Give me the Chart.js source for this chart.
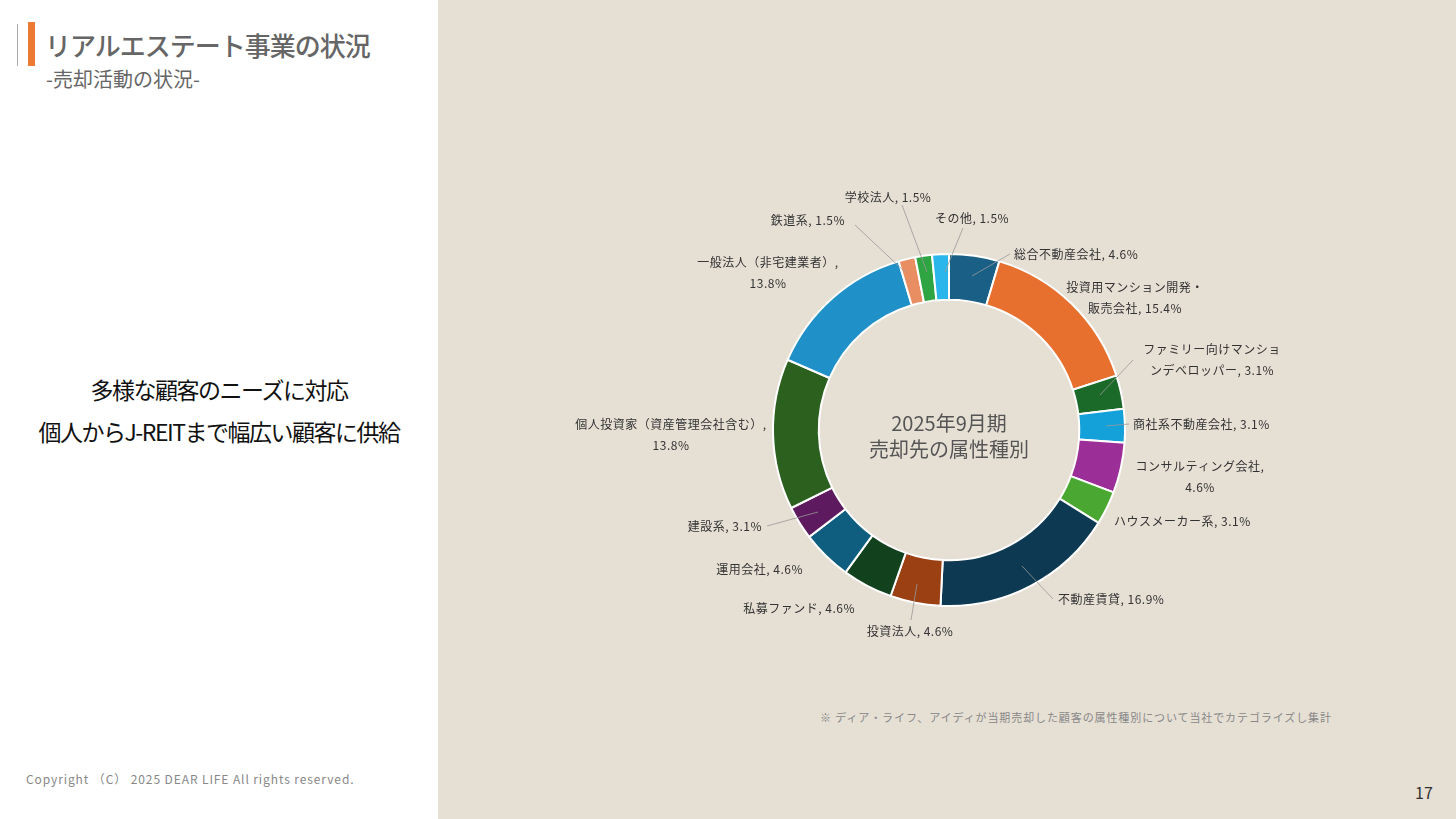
<!DOCTYPE html>
<html><head><meta charset="utf-8">
<script src="https://cdn.jsdelivr.net/npm/chart.js@4"></script>
<style>
body{margin:0;width:1456px;height:819px;position:relative;overflow:hidden;font-family:"Noto Sans CJK JP","Noto Sans",sans-serif;background:#fff}
#right{position:absolute;left:438px;top:0;width:1018px;height:819px;background:#e6dfd4}
#c{position:absolute;left:0;top:0}
.t{position:absolute;white-space:nowrap}
</style></head><body>
<div id="right"></div>
<div style="position:absolute;left:17px;top:24px;width:1px;height:42px;background:#aaa"></div>
<div style="position:absolute;left:28px;top:22px;width:7px;height:44px;background:#ec7a32"></div>
<div class="t" style="left:45px;top:26px;font-size:26px;color:#666;font-weight:500;letter-spacing:-1px">リアルエステート事業の状況</div>
<div class="t" style="left:46px;top:64px;font-size:20px;color:#666">-売却活動の状況-</div>
<div class="t" style="left:0;width:438px;top:368px;text-align:center;font-size:23px;color:#111;line-height:42px;letter-spacing:-1.5px">多様な顧客のニーズに対応<br>個人からJ-REITまで幅広い顧客に供給</div>
<div class="t" style="left:26px;top:770px;font-size:12px;color:#888;letter-spacing:0.9px">Copyright （C） 2025  DEAR LIFE  All rights reserved.</div>
<div class="t" style="left:820px;top:709px;font-size:11px;color:#888;letter-spacing:0.9px">※ ディア・ライフ、アイディが当期売却した顧客の属性種別について当社でカテゴライズし集計</div>
<div class="t" style="left:1415px;top:780px;font-size:16px;color:#333">17</div>
<canvas id="c" width="1456" height="819"></canvas>
<script>
const categories=["総合不動産会社","投資用マンション開発・販売会社","ファミリー向けマンションデベロッパー","商社系不動産会社","コンサルティング会社","ハウスメーカー系","不動産賃貸","投資法人","私募ファンド","運用会社","建設系","個人投資家（資産管理会社含む）","一般法人（非宅建業者）","鉄道系","学校法人","その他"];
const counts=[3,10,2,2,3,2,11,3,3,3,2,9,9,1,1,1];
const percentLabels=["4.6%","15.4%","3.1%","3.1%","4.6%","3.1%","16.9%","4.6%","4.6%","4.6%","3.1%","13.8%","13.8%","1.5%","1.5%","1.5%"];
const colors=["#1a5f86","#e8702f","#1b6a29","#14a0d8","#9c2e98","#4aa832","#0d3a52","#9a4013","#12411d","#0f5e80","#5d1a5e","#2c601f","#2090c8","#e88e62","#2fa443","#2ab6ea"];
// label layout: [lines, x, y, align, leader line or null]
const layout=[
 [["総合不動産会社, 4.6%"],1014,254,"left",[972,276,1010,254]],
 [["投資用マンション開発・","販売会社, 15.4%"],1135,287,"center",null],
 [["ファミリー向けマンショ","ンデベロッパー, 3.1%"],1212,349,"center",[1100,395,1133,360]],
 [["商社系不動産会社, 3.1%"],1133,424,"left",[1106,426,1129,424]],
 [["コンサルティング会社,","4.6%"],1200,466,"center",null],
 [["ハウスメーカー系, 3.1%"],1114,521,"left",null],
 [["不動産賃貸, 16.9%"],1058,599,"left",[1022,566,1053,599]],
 [["投資法人, 4.6%"],910,631,"center",[917,584,911,620]],
 [["私募ファンド, 4.6%"],855,608,"right",null],
 [["運用会社, 4.6%"],803,569,"right",null],
 [["建設系, 3.1%"],762,526,"right",[818,512,767,526]],
 [["個人投資家（資産管理会社含む）,","13.8%"],671,424,"center",null],
 [["一般法人（非宅建業者）,","13.8%"],768,262,"center",null],
 [["鉄道系, 1.5%"],845,220,"right",[855,225,905,272]],
 [["学校法人, 1.5%"],888,197,"center",[902,205,927,272]],
 [["その他, 1.5%"],972,218,"center",[963,228,945,272]]
];
const labelPlugin={id:"lbl",afterDraw(ch){
 const g=ch.ctx;g.save();
 g.strokeStyle="#999";g.lineWidth=0.8;
 layout.forEach(l=>{if(l[4]){g.beginPath();g.moveTo(l[4][0],l[4][1]);g.lineTo(l[4][2],l[4][3]);g.stroke();}});
 g.fillStyle="#333";g.font="12px 'Noto Sans CJK JP'";g.textBaseline="middle";
 if("letterSpacing" in g) g.letterSpacing="0.5px";
 layout.forEach((l,i)=>{g.textAlign=l[3];l[0].forEach((s,j)=>g.fillText(s,l[1],l[2]+j*21));});
 if("letterSpacing" in g) g.letterSpacing="0px";
 const a=ch.getDatasetMeta(0).data[0];
 g.fillStyle="#555";g.textAlign="center";g.font="20px 'Noto Sans CJK JP'";
 g.fillText("2025年9月期",a.x,a.y-7);g.fillText("売却先の属性種別",a.x,a.y+19);
 g.restore();}};
new Chart(document.getElementById("c"),{type:"doughnut",
 data:{labels:categories,datasets:[{data:counts,backgroundColor:colors,borderColor:"#fff",borderWidth:2}]},
 options:{responsive:false,animation:false,cutout:"74%",
  layout:{padding:{left:772,right:330,top:253,bottom:212}},
  plugins:{legend:{display:false},tooltip:{enabled:false}}},
 plugins:[labelPlugin]});
</script></body></html>
